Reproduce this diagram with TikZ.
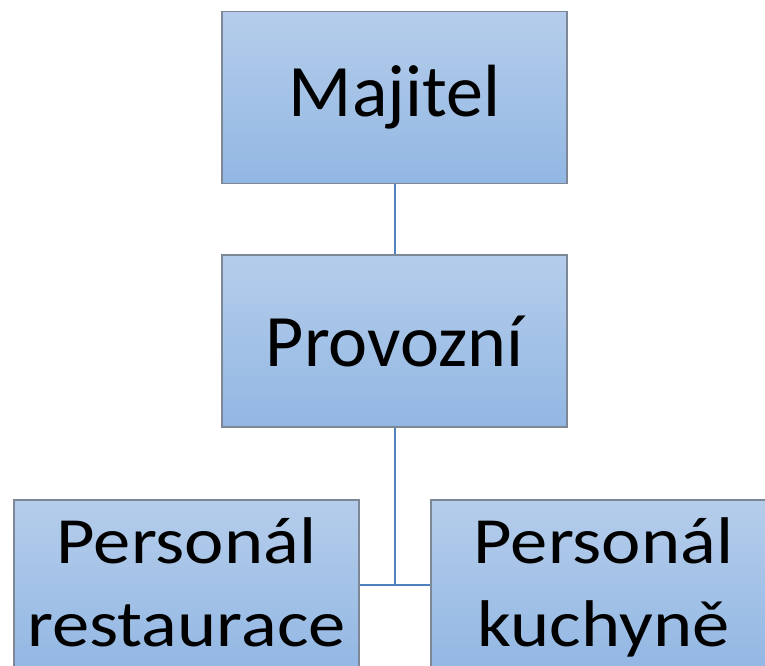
\documentclass[tikz,border=0pt]{standalone}
\usepackage{fontspec}
\setmainfont{Carlito}
\definecolor{boxtop}{RGB}{181,205,235}
\definecolor{boxbot}{RGB}{146,183,227}
\definecolor{boxline}{RGB}{125,135,150}
\definecolor{linkline}{RGB}{79,129,189}
% lower-level labels are set slightly wide
\newcommand{\widetext}[1]{\scalebox{1.13}[1]{#1}}
% fixed line height and depth so both lower boxes share baselines
\newcommand{\toprule}{\rule{0pt}{60pt}}
\newcommand{\botrule}{\rule[-22pt]{0pt}{22pt}}
\tikzset{
  orgbox/.style={draw=boxline, line width=1.2pt, top color=boxtop, bottom color=boxbot,
    minimum width=345pt, minimum height=172pt, inner sep=0pt, align=center},
  bigtext/.style={font=\fontsize{74}{88}\selectfont},
  smalltext/.style={font=\fontsize{66}{83.4}\selectfont},
  link/.style={draw=linkline, line width=2pt}
}
\begin{document}
\begin{tikzpicture}[x=1pt, y=-1pt]
  \useasboundingbox (0,0) rectangle (765,666);
  \clip (0,0) rectangle (765,666);
  \node[orgbox, bigtext] (owner) at (394.5,97.5) {Majitel};
  \node[orgbox, bigtext] (ops) at (394.5,341) {Provozní};
  \node[orgbox, smalltext] (rest) at (186.5,586)
    {\toprule\widetext{Personál}\\\widetext{restaurace}\botrule};
  \node[orgbox, smalltext] (kitchen) at (603.5,586)
    {\toprule\widetext{Personál}\\\widetext{kuchyně}\botrule};
  \coordinate (joint) at (ops.south |- 0,585);
  \draw[link] (owner.south) -- (ops.north);
  \draw[link] (ops.south) -- (joint);
  \draw[link] (rest.east |- joint) -- (kitchen.west |- joint);
\end{tikzpicture}
\end{document}
